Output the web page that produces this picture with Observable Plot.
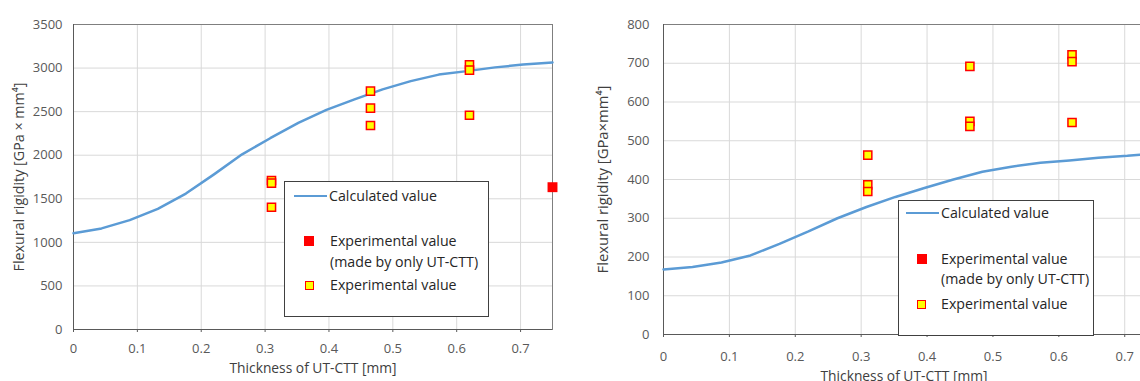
<!DOCTYPE html>
<html><head><meta charset="utf-8">
<script src="https://cdn.jsdelivr.net/npm/d3@7"></script>
<script src="https://cdn.jsdelivr.net/npm/@observablehq/plot@0.6"></script>
<style>
body{margin:0;background:#fff;}
#wrap{position:relative;width:1140px;height:381px;overflow:hidden;font-family:"Open Sans",sans-serif;}
.chart{position:absolute;top:0;}
.legend{position:absolute;border:1px solid #404040;background:#fff;box-sizing:border-box;}
.legend .t{position:absolute;font-size:14.2px;color:#262626;white-space:nowrap;line-height:20px;}
.legend .ln{position:absolute;height:2.5px;background:#5b9bd5;}
.legend .sq{position:absolute;box-sizing:border-box;}
</style>
</head><body>
<div id="wrap"></div>
<script>
// ---- data ----
const xTicks = [0, 0.1, 0.2, 0.3, 0.4, 0.5, 0.6, 0.7];
const yTicksA = [0, 500, 1000, 1500, 2000, 2500, 3000, 3500];
const yTicksB = [0, 100, 200, 300, 400, 500, 600, 700, 800];

const calcXA = [0, 0.044, 0.088, 0.132, 0.176, 0.22, 0.264, 0.308, 0.352, 0.396, 0.44, 0.484, 0.528, 0.572, 0.616, 0.66, 0.704, 0.75];
const calcYA = [1105, 1160, 1255, 1385, 1560, 1780, 2010, 2195, 2370, 2520, 2640, 2755, 2850, 2925, 2965, 3008, 3040, 3064];
const expXA = [0.31, 0.31, 0.31, 0.465, 0.465, 0.465, 0.62, 0.62, 0.62];
const expYA = [1710, 1680, 1403, 2735, 2540, 2341, 3037, 2976, 2459];
const onlyXA = [0.75];
const onlyYA = [1633];

const calcXB = [0, 0.044, 0.088, 0.132, 0.176, 0.22, 0.264, 0.308, 0.352, 0.396, 0.44, 0.484, 0.528, 0.572, 0.616, 0.66, 0.704, 0.73];
const calcYB = [168, 174, 186, 204, 234, 266, 300, 329, 355, 378, 400, 420, 433, 443, 449, 456, 461, 465];
const expXB = [0.31, 0.31, 0.31, 0.465, 0.465, 0.465, 0.62, 0.62, 0.62];
const expYB = [463, 386, 369, 692, 550, 537, 722, 704, 547];
const onlyXB = [];
const onlyYB = [];

const xLabel = "Thickness of UT-CTT [mm]";
const yLabelA = "Flexural rigidity [GPa × mm⁴]";
const yLabelB = "Flexural rigidity [GPa×mm⁴]";
const legendLabels = ["Calculated value", "Experimental value", "(made by only UT-CTT)", "Experimental value"];

// ---- drawing ----
const wrap = document.getElementById("wrap");
const zip = (xs, ys) => xs.map((x, i) => ({x, y: ys[i]}));

function chart(o) {
  const p = Plot.plot({
    width: o.width, height: 381,
    marginLeft: o.mL, marginRight: o.mR, marginTop: o.mT, marginBottom: o.mB,
    style: {fontFamily: "'Open Sans', sans-serif", fontSize: "13px", color: "#595959", background: "transparent", overflow: "visible"},
    x: {domain: [0, o.xMax]},
    y: {domain: [0, o.yMax]},
    marks: [
      Plot.gridX(xTicks, {stroke: "#d9d9d9", strokeOpacity: 1}),
      Plot.gridY(o.yTicks, {stroke: "#d9d9d9", strokeOpacity: 1}),
      Plot.frame({stroke: "#7f7f7f"}),
      Plot.ruleY([0], {stroke: "#595959"}),
      Plot.ruleX([0], {stroke: "#595959"}),
      Plot.axisX(xTicks, {tickSize: 3, tickPadding: o.xPad, tickFormat: d => String(d), label: null, stroke: "#595959"}),
      Plot.axisY(o.yTicks, {tickSize: 0, tickPadding: o.yPad, tickFormat: d => String(d), label: null}),
      Plot.line(zip(o.cx, o.cy), {x: "x", y: "y", stroke: "#5b9bd5", strokeWidth: 2.5}),
      Plot.dot(zip(o.ex, o.ey), {x: "x", y: "y", symbol: "square", r: 4.6, fill: "#ffff00", stroke: "#ff0000", strokeWidth: 1.5}),
      Plot.dot(zip(o.ox, o.oy), {x: "x", y: "y", symbol: "square", r: 5.6, fill: "#ff0000"}),
      Plot.text([o.yLabel], {text: d => d, frameAnchor: "left", textAnchor: "middle", lineAnchor: "middle", dx: o.yLabDx, rotate: -90, fontSize: o.yLabSize, fontFamily: "Open Sans", fill: "#404040"}),
      Plot.text([xLabel], {text: d => d, frameAnchor: "bottom", textAnchor: "middle", lineAnchor: "top", dy: o.xLabDy, fontSize: 13.8, fontFamily: "Open Sans", fill: "#404040"})
    ]
  });
  p.classList.add("chart");
  p.style.left = o.left + "px";
  wrap.appendChild(p);
}

chart({left: 0, width: 575, mL: 73, mR: 23, mT: 24, mB: 52, xMax: 0.75, yMax: 3500, yTicks: yTicksA,
  xPad: 11, yPad: 11, cx: calcXA, cy: calcYA, ex: expXA, ey: expYA, ox: onlyXA, oy: onlyYA,
  yLabel: yLabelA, yLabSize: 14.3, yLabDx: -54, xLabDy: 34});
chart({left: 580, width: 574, mL: 83, mR: 10, mT: 24, mB: 47, xMax: 0.73, yMax: 800, yTicks: yTicksB,
  xPad: 14, yPad: 14, cx: calcXB, cy: calcYB, ex: expXB, ey: expYB, ox: onlyXB, oy: onlyYB,
  yLabel: yLabelB, yLabSize: 14.8, yLabDx: -60, xLabDy: 37});

function legend(o) {
  const box = document.createElement("div");
  box.className = "legend";
  Object.assign(box.style, {left: o.left + "px", top: o.top + "px", width: o.w + "px", height: o.h + "px"});
  const add = (cls, st, txt) => {
    const e = document.createElement("div");
    e.className = cls; Object.assign(e.style, st);
    if (txt) e.textContent = txt;
    box.appendChild(e);
  };
  add("ln", {left: o.lineX0 + "px", width: (o.lineX1 - o.lineX0) + "px", top: (o.r1 - 1.25) + "px"});
  add("t", {left: o.tx1 + "px", top: (o.r1 - 10) + "px"}, legendLabels[0]);
  add("sq", {left: (o.sqX - 5) + "px", top: (o.r2 - 5) + "px", width: "10px", height: "10px", background: "#ff0000"});
  add("t", {left: o.tx + "px", top: (o.r2 - 10) + "px"}, legendLabels[1]);
  add("t", {left: o.tx + "px", top: (o.r3 - 10) + "px"}, legendLabels[2]);
  add("sq", {left: (o.sqX - 4.5) + "px", top: (o.r4 - 4.5) + "px", width: "9px", height: "9px", background: "#ffff00", border: "1.5px solid #ff0000"});
  add("t", {left: o.tx + "px", top: (o.r4 - 10) + "px"}, legendLabels[3]);
  wrap.appendChild(box);
}
legend({left: 284, top: 181, w: 205, h: 136, lineX0: 9, lineX1: 42, tx1: 44, tx: 45, sqX: 24, r1: 14, r2: 59, r3: 80, r4: 103});
legend({left: 898, top: 200, w: 196, h: 136, lineX0: 7, lineX1: 40, tx1: 42, tx: 42, sqX: 22.5, r1: 12, r2: 58, r3: 78, r4: 103});
</script>
</body></html>
